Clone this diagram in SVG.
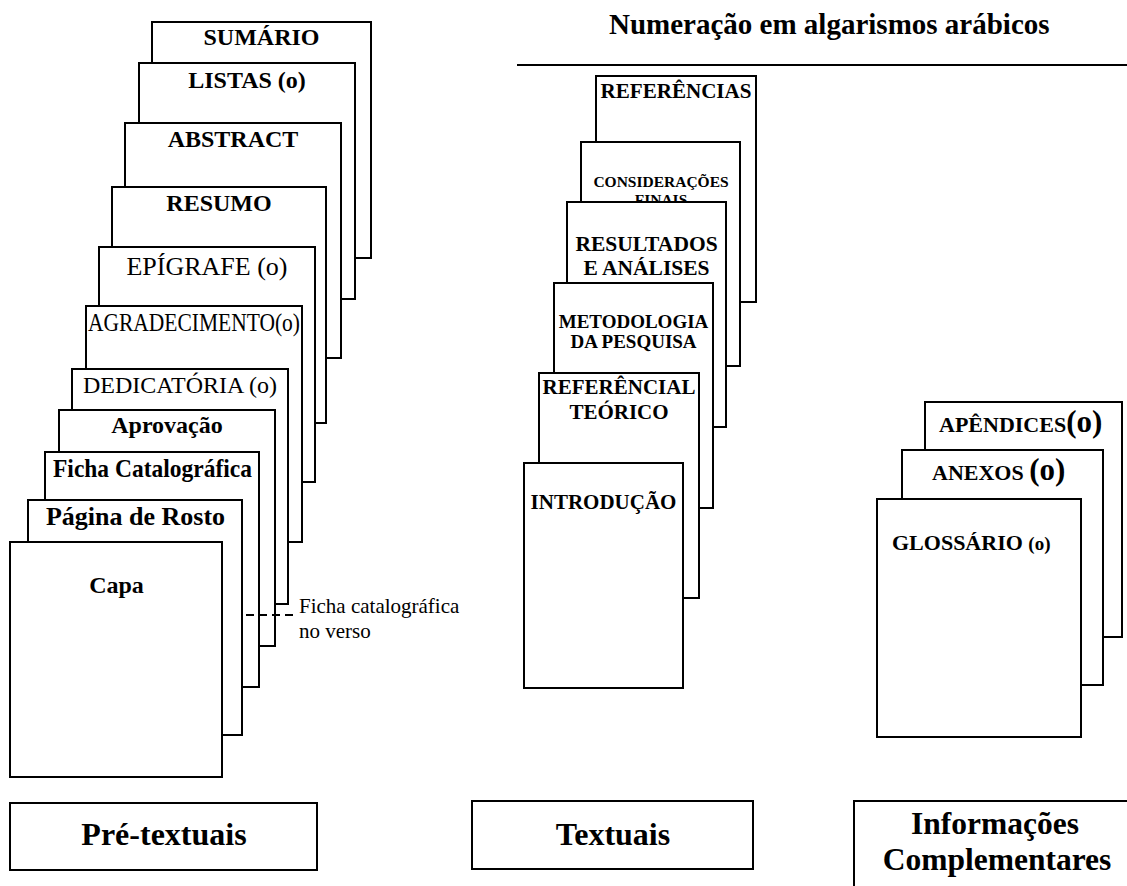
<svg xmlns="http://www.w3.org/2000/svg" width="1127" height="886" viewBox="0 0 1127 886">
<style>
.pg{fill:#fff;stroke:#000;stroke-width:2}
.b{font-family:"Liberation Serif","Times New Roman",serif;font-weight:bold;fill:#000;text-anchor:middle}
.r{font-family:"Liberation Serif","Times New Roman",serif;font-weight:normal;fill:#000;text-anchor:middle}
.s{text-anchor:start}
</style>
<rect x="0" y="0" width="1127" height="886" fill="#fff"/>

<g id="header">
<text class="b s" x="609" y="34" font-size="29">Numeração em algarismos arábicos</text>
<line x1="517" y1="65" x2="1127" y2="65" stroke="#000" stroke-width="2"/>
</g>

<!-- Pré-textuais stack -->
<g id="sumario"><rect class="pg" x="152" y="22" width="219" height="236"/><text class="b" x="261.5" y="45" font-size="24">SUMÁRIO</text></g>
<g id="listas"><rect class="pg" x="139" y="63" width="216" height="236"/><text class="b" x="247" y="88" font-size="24">LISTAS (o)</text></g>
<g id="abstract"><rect class="pg" x="125" y="123" width="216" height="235"/><text class="b" x="233" y="147" font-size="24">ABSTRACT</text></g>
<g id="resumo"><rect class="pg" x="112" y="187" width="214" height="236"/><text class="b" x="219" y="211" font-size="24">RESUMO</text></g>
<g id="epigrafe"><rect class="pg" x="99" y="247" width="216" height="235"/><text class="r" x="207" y="275" font-size="26">EPÍGRAFE (o)</text></g>
<g id="agradecimento"><rect class="pg" x="86" y="306" width="216" height="236"/><text class="r" x="194" y="331" font-size="26" textLength="212" lengthAdjust="spacingAndGlyphs">AGRADECIMENTO(o)</text></g>
<g id="dedicatoria"><rect class="pg" x="72" y="369" width="216" height="235"/><text class="r" x="180" y="393" font-size="24">DEDICATÓRIA (o)</text></g>
<g id="aprovacao"><rect class="pg" x="59" y="410" width="216" height="236"/><text class="b" x="167" y="433" font-size="24">Aprovação</text></g>
<g id="ficha"><rect class="pg" x="45" y="452" width="214" height="235"/><text class="b" x="152.5" y="477" font-size="25" textLength="199" lengthAdjust="spacingAndGlyphs">Ficha Catalográfica</text></g>
<g id="rosto"><rect class="pg" x="28" y="500" width="214" height="235"/><text class="b" x="135.5" y="525" font-size="26">Página de Rosto</text></g>
<g id="capa"><rect class="pg" x="10" y="542" width="212" height="235"/><text class="b" x="116.5" y="593" font-size="24">Capa</text></g>

<g id="connectors">
<line x1="246" y1="615" x2="296" y2="615" stroke="#000" stroke-width="2" stroke-dasharray="8 5"/>
</g>
<g id="nota">
<text class="r s" x="299" y="613" font-size="21">Ficha catalográfica</text>
<text class="r s" x="299" y="638" font-size="21">no verso</text>
</g>

<!-- Textuais stack -->
<g id="referencias"><rect class="pg" x="596" y="76" width="160" height="226"/><text class="b" x="676" y="98" font-size="20" textLength="151" lengthAdjust="spacingAndGlyphs">REFERÊNCIAS</text></g>
<g id="consideracoes"><rect class="pg" x="581" y="142" width="159" height="224"/><text class="b" x="661" y="187" font-size="15.5">CONSIDERAÇÕES</text><text class="b" x="661" y="205" font-size="15.5">FINAIS</text></g>
<g id="resultados"><rect class="pg" x="567" y="202" width="159" height="225"/><text class="b" x="646.5" y="251" font-size="21.5">RESULTADOS</text><text class="b" x="646.5" y="275" font-size="21.5">E ANÁLISES</text></g>
<g id="metodologia"><rect class="pg" x="554" y="283" width="159" height="225"/><text class="b" x="633.5" y="328" font-size="19">METODOLOGIA</text><text class="b" x="633.5" y="348" font-size="19">DA PESQUISA</text></g>
<g id="referencial"><rect class="pg" x="539" y="373" width="160" height="225"/><text class="b" x="619" y="394" font-size="21">REFERÊNCIAL</text><text class="b" x="619" y="419" font-size="21">TEÓRICO</text></g>
<g id="introducao"><rect class="pg" x="524" y="463" width="159" height="225"/><text class="b" x="603.5" y="509" font-size="21">INTRODUÇÃO</text></g>

<!-- Pós-textuais stack -->
<g id="apendices"><rect class="pg" x="925" y="402" width="197" height="235"/><text class="b s" x="939" y="432" font-size="22">APÊNDICES<tspan font-size="31">(o)</tspan></text></g>
<g id="anexos"><rect class="pg" x="902" y="450" width="201" height="235"/><text class="b s" x="932" y="480" font-size="22">ANEXOS <tspan font-size="31">(o)</tspan></text></g>
<g id="glossario"><rect class="pg" x="877" y="499" width="204" height="238"/><text class="b s" x="892" y="550" font-size="22">GLOSSÁRIO <tspan font-size="19">(o)</tspan></text></g>

<!-- Category boxes -->
<g id="pretextuais"><rect class="pg" x="10" y="803" width="307" height="67"/><text class="b" x="164" y="845" font-size="32">Pré-textuais</text></g>
<g id="textuais"><rect class="pg" x="472" y="801" width="281" height="68"/><text class="b" x="613" y="845" font-size="32">Textuais</text></g>
<g id="complementares"><rect class="pg" x="854" y="801" width="300" height="120"/><text class="b" x="995" y="834" font-size="31.5">Informações</text><text class="b" x="997" y="870" font-size="31.5">Complementares</text></g>
</svg>
